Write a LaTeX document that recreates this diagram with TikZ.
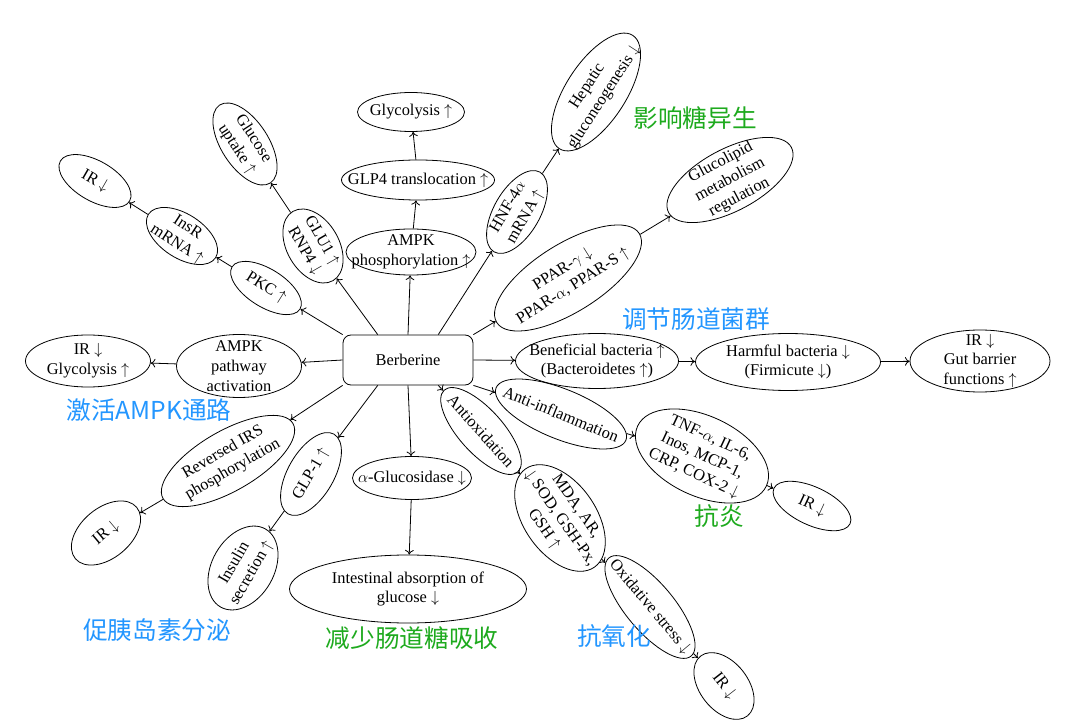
\documentclass[tikz,border=0pt]{standalone}
\usepackage{fontspec}
\setmainfont{Liberation Serif}
\newfontfamily\cjk{Noto Sans CJK SC}
\usepackage{tikz}
\usetikzlibrary{shapes.geometric,arrows.meta,positioning}
\definecolor{labelgreen}{RGB}{30, 170, 30}
\definecolor{labelblue}{RGB}{35, 150, 255}
\newcommand{\arup}{\ $\uparrow$}
\newcommand{\ardn}{\ $\downarrow$}
\tikzset{
    ell/.style={draw,ellipse,inner sep=-40pt,align=center},
    cn/.style={font=\cjk\fontsize{18.5}{22}\selectfont}
}

\begin{document}
\begin{tikzpicture}[x=0.75pt,y=-0.75pt,line width=0.6pt,>={To[length=3.5pt,width=6.5pt]},
    every node/.style={font=\fontsize{12.3}{14.8}\selectfont}]
    \useasboundingbox (0,0) rectangle (1067,723);

    % Centre
    \node[draw,rounded corners=6pt,minimum width=97.5pt,minimum height=37.5pt] (ber) at (408,360) {Berberine};

    % Upward branch
    \node[ell,minimum width=97.5pt,minimum height=34.5pt] (ampkp) at (411,252) {AMPK\\phosphorylation\arup};
    \node[ell,minimum width=114.75pt,minimum height=30pt] (glpt) at (418,180) {GLP4 translocation\arup};
    \node[ell,minimum width=80.25pt,minimum height=29.25pt] (glyc) at (411,112) {Glycolysis\arup};

    % Upper left branches
    \node[ell,minimum width=60pt,minimum height=39pt,rotate=-60] (glu) at (313,246) {GLU1\arup\\RNP4\ardn};
    \node[ell,minimum width=69.75pt,minimum height=35.25pt,rotate=-57] (gup) at (245,144) {Glucose\\uptake\arup};
    \node[ell,minimum width=60pt,minimum height=28.5pt,rotate=-32] (pkc) at (266,288) {PKC\arup};
    \node[ell,minimum width=60pt,minimum height=33pt,rotate=-33] (insr) at (182,236) {InsR\\mRNA\arup};
    \node[ell,minimum width=60pt,minimum height=30pt,rotate=-30] (irA) at (95,181) {IR\ardn};

    % Left branch
    \node[ell,minimum width=93.75pt,minimum height=47.25pt] (ampkpath) at (239,366) {AMPK\\pathway\\activation};
    \node[ell,minimum width=93.75pt,minimum height=39pt] (irgl) at (88,361) {IR\ardn\\Glycolysis\arup};

    % Lower left branches
    \node[ell,minimum width=112.5pt,minimum height=45pt,rotate=30] (rirs) at (228,461) {Reversed IRS\\phosphorylation};
    \node[ell,minimum width=60pt,minimum height=37.5pt,rotate=40] (irB) at (106,533) {IR\ardn};
    \node[ell,minimum width=69pt,minimum height=34.5pt,rotate=60] (glp1) at (311,474) {GLP-1\arup};
    \node[ell,minimum width=67.5pt,minimum height=46.5pt,rotate=60] (ins) at (243,568) {Insulin\\secretion\arup};

    % Downward branch
    \node[ell,minimum width=89.25pt,minimum height=32.25pt] (agl) at (412,478) {$\alpha$-Glucosidase\ardn};
    \node[ell,minimum width=177.75pt,minimum height=51pt] (intest) at (408,589) {Intestinal absorption of\\glucose\ardn};

    % Lower right branches
    \node[ell,minimum width=82.5pt,minimum height=33pt,rotate=-48] (antiox) at (481,431) {Antioxidation};
    \node[ell,minimum width=90pt,minimum height=54pt,rotate=-55] (mda) at (560,518) {MDA, AR,\\$\downarrow$ SOD, GSH-Px,\\GSH\arup};
    \node[ell,minimum width=96pt,minimum height=36pt,rotate=-50] (oxi) at (650,607) {Oxidative stress\ardn};
    \node[ell,minimum width=57pt,minimum height=36pt,rotate=-52] (irD) at (724,686) {IR\ardn};
    \node[ell,minimum width=105pt,minimum height=37.5pt,rotate=-22] (anti) at (561,414) {Anti-inflammation};
    \node[ell,minimum width=106.5pt,minimum height=60pt,rotate=-25] (tnf) at (702,456) {TNF-$\alpha$, IL-6,\\Inos, MCP-1,\\CRP, COX-2\ardn};
    \node[ell,minimum width=63pt,minimum height=28.5pt,rotate=-25] (irC) at (812,506) {IR\ardn};

    % Right branch
    \node[ell,minimum width=122.25pt,minimum height=41.25pt] (benef) at (597,361) {Beneficial bacteria\arup\\(Bacteroidetes\arup)};
    \node[ell,minimum width=138.75pt,minimum height=42.75pt] (harm) at (788,362) {Harmful bacteria\ardn\\(Firmicute\ardn)};
    \node[ell,minimum width=105pt,minimum height=46.5pt] (gut) at (980,361) {IR\ardn\\Gut barrier\\functions\arup};

    % Upper right branches
    \node[ell,minimum width=69pt,minimum height=34.5pt,rotate=60] (hnf) at (517,212) {HNF-4$\alpha$\\mRNA\arup};
    \node[ell,minimum width=101.25pt,minimum height=45pt,rotate=57] (hep) at (596,92) {Hepatic\\gluconeogenesis\ardn};
    \node[ell,minimum width=126pt,minimum height=51pt,rotate=32] (ppar) at (568,278) {PPAR-$\gamma$\ardn\\PPAR-$\alpha$, PPAR-S\arup};
    \node[ell,minimum width=104.25pt,minimum height=46.5pt,rotate=28] (gluco) at (730,180) {Glucolipid\\metabolism\\regulation};

    % Chinese labels
    \node[cn,labelgreen] (lbhep) at (695,118) {影响糖异生};
    \node[cn,labelblue] (lbgut) at (696,319) {调节肠道菌群};
    \node[cn,labelblue] (lbampk) at (149,410) {激活AMPK通路};
    \node[cn,labelblue] (lbins) at (157,630) {促胰岛素分泌};
    \node[cn,labelgreen] (lbabs) at (412,638) {减少肠道糖吸收};
    \node[cn,labelblue] (lbox) at (614,636) {抗氧化};
    \node[cn,labelgreen] (lbinf) at (719,516) {抗炎};

    % Arrows out of Berberine
    \draw[->] (ber.north) -- (ampkp);
    \draw[->] (ber.140) -- (glu);
    \draw[->] (ber.north west) -- (pkc);
    \draw[->] (ber.west) -- (ampkpath);
    \draw[->] (ber.south west) -- (rirs);
    \draw[->] (ber.-140) -- (glp1);
    \draw[->] (ber.south) -- (agl);
    \draw[->] (ber.-40) -- (antiox);
    \draw[->] (ber.south east) -- (anti);
    \draw[->] (ber.east) -- (benef);
    \draw[->] (ber.north east) -- (ppar);
    \draw[->] (ber.40) -- (hnf);

    % Chains
    \draw[->] (ampkp) -- (glpt);
    \draw[->] (glpt) -- (glyc);
    \draw[->] (glu) -- (gup);
    \draw[->] (pkc) -- (insr);
    \draw[->] (insr) -- (irA);
    \draw[->] (ampkpath) -- (irgl);
    \draw[->] (rirs) -- (irB);
    \draw[->] (glp1) -- (ins);
    \draw[->] (agl) -- (intest);
    \draw[->] (antiox) -- (mda);
    \draw[->] (mda) -- (oxi);
    \draw[->] (oxi) -- (irD);
    \draw[->] (anti) -- (tnf);
    \draw[->] (tnf) -- (irC);
    \draw[->] (benef) -- (harm);
    \draw[->] (harm) -- (gut);
    \draw[->] (hnf) -- (hep);
    \draw[->] (ppar) -- (gluco);
\end{tikzpicture}
\end{document}
